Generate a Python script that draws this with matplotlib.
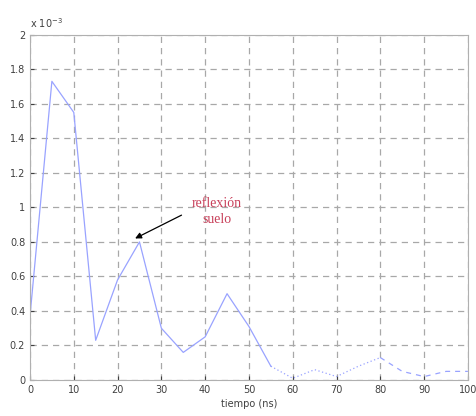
import numpy as np
import matplotlib
matplotlib.use('Agg')
import matplotlib.pyplot as plt

# tiempo (ns) and amplitude (x 1e-3)
tiempo = [0, 5, 10, 15, 20, 25, 30, 35, 40, 45, 50, 55, 60, 65, 70, 75, 80, 85, 90, 95, 100]
amplitud = [0.37, 1.73, 1.55, 0.23, 0.58, 0.80, 0.30, 0.16, 0.25, 0.50, 0.31, 0.08,
            0.01, 0.06, 0.02, 0.08, 0.13, 0.05, 0.02, 0.05, 0.05]

xticks = list(range(0, 101, 10))
yticks = [0, 0.2, 0.4, 0.6, 0.8, 1, 1.2, 1.4, 1.6, 1.8, 2]
ytick_labels = ['0', '0.2', '0.4', '0.6', '0.8', '1', '1.2', '1.4', '1.6', '1.8', '2']

line_col = '#99a3ff'
grid_col = '#a8a8a8'

fig = plt.figure(figsize=(4.76, 4.16), dpi=100)
ax = fig.add_axes([0.063, 0.0865, 0.92, 0.83])

# solid part, dotted tail, dashed end
t = np.array(tiempo)
a = np.array(amplitud)
ax.plot(t[:12], a[:12], color=line_col, lw=0.9, ls='-')
ax.plot(t[11:17], a[11:17], color=line_col, lw=0.9, ls=(0, (1, 2)))
ax.plot(t[16:], a[16:], color=line_col, lw=0.9, ls=(0, (4, 4)))

ax.set_xlim(0, 100)
ax.set_ylim(0, 2)
ax.set_xticks(xticks)
ax.set_yticks(yticks)
ax.set_yticklabels(ytick_labels)
ax.tick_params(direction='in', labelsize=7, colors='#404040', length=3)
ax.grid(True, color=grid_col, ls=(0, (5, 4)), lw=0.9)
for s in ax.spines.values():
  s.set_color('#b0b0b0')

ax.set_xlabel('tiempo (ns)', fontsize=7, color='#404040', labelpad=3)
ax.text(0.0, 1.015, 'x 10$^{-3}$', transform=ax.transAxes, fontsize=7, color='#404040',
        ha='left', va='bottom')

ax.text(42.7, 0.975, 'reflexión\nsuelo', fontsize=10, family='Liberation Serif',
        color='#c8405a', ha='center', va='center', linespacing=1.35)
ax.annotate('', xy=(24, 0.82), xytext=(34.6, 0.955),
            arrowprops=dict(arrowstyle='-|>', color='black', lw=0.9, shrinkA=0, shrinkB=0,
                            mutation_scale=9))

fig.savefig('out.png', dpi=100)
